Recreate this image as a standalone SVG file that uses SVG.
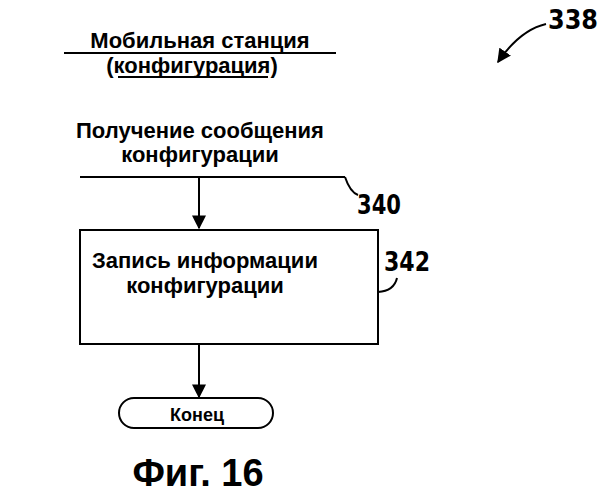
<svg xmlns="http://www.w3.org/2000/svg" width="608" height="500" viewBox="0 0 608 500">
<style>
text{font-family:"Liberation Sans",Arial,sans-serif;font-weight:bold;fill:#000}
.t{font-size:22px;text-anchor:middle}
.n{font-size:27px;font-family:"Liberation Sans Narrow","DejaVu Sans Condensed","Liberation Sans",sans-serif}
.l{stroke:#000;stroke-width:2;fill:none}
</style>
<defs><marker id="a" viewBox="0 0 10 10" refX="9" refY="5" markerWidth="7" markerHeight="7" orient="auto"><path d="M0,0L10,5L0,10z"/></marker></defs>
<rect width="608" height="500" fill="#fff"/>
<g id="title">
<text class="t" x="200" y="48">Мобильная станция</text>
<text class="t" x="192" y="73">(конфигурация)</text>
<line class="l" x1="64" y1="53" x2="336" y2="53"/>
<line class="l" x1="118" y1="77" x2="268" y2="77"/>
</g>
<g id="ref338">
<text class="n" x="548" y="29" textLength="50" lengthAdjust="spacingAndGlyphs">338</text>
<path class="l" d="M546,24 Q520,30 498,62" marker-end="url(#a)"/>
</g>
<g id="receive">
<text class="t" x="200" y="138">Получение сообщения</text>
<text class="t" x="200" y="162">конфигурации</text>
<line class="l" x1="80" y1="177" x2="345" y2="177"/>
<path class="l" d="M345,177 Q350,192 358,195"/>
<text class="n" x="357" y="214" textLength="44" lengthAdjust="spacingAndGlyphs">340</text>
</g>
<g id="record">
<rect class="l" x="80" y="230" width="298" height="114"/>
<text class="t" x="205" y="268">Запись информации</text>
<text class="t" x="205" y="293">конфигурации</text>
<text class="n" x="384" y="271" textLength="46" lengthAdjust="spacingAndGlyphs">342</text>
<path class="l" d="M378,292 Q394,291 397,278"/>
</g>
<g id="end">
<rect class="l" x="119" y="398" width="154" height="30" rx="15"/>
<text x="197" y="421" style="font-size:18px;text-anchor:middle">Конец</text>
</g>
<g id="connectors">
<line class="l" x1="199" y1="177" x2="199" y2="228" marker-end="url(#a)"/>
<line class="l" x1="199" y1="344" x2="199" y2="397" marker-end="url(#a)"/>
</g>
<text x="198" y="486" style="font-size:38px;text-anchor:middle">Фиг. 16</text>
</svg>
